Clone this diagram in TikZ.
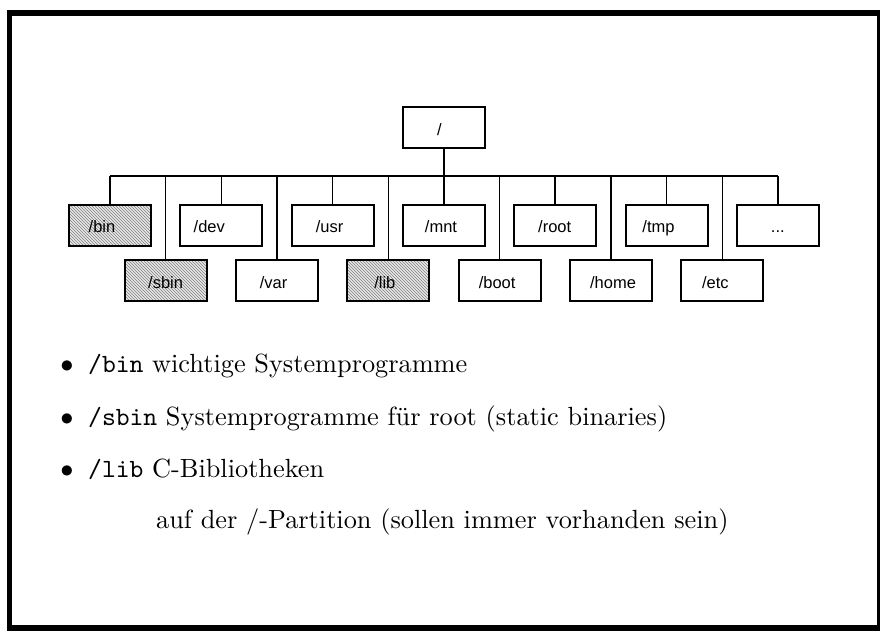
\documentclass[tikz,border=0pt]{standalone}
\usepackage{fontspec}
\usepackage{graphicx}
\newfontfamily\boxfont{Liberation Sans}
\usetikzlibrary{patterns}

\begin{document}
\begin{tikzpicture}[x=1pt,y=-1pt,
  dirbox/.style={draw, line width=2pt, minimum width=82pt, minimum height=41pt, inner sep=0pt},
  sysbox/.style={dirbox, preaction={fill=gray!18}, pattern=north west lines, pattern color=black!50},
  link/.style={line width=1.6pt},
  lbl/.style={font=\boxfont\fontsize{16.5}{18}\selectfont, inner sep=0pt,
              text height=12pt, text depth=0pt, yshift=-1.7pt},
  body/.style={inner sep=0pt, font=\fontsize{10}{12}\selectfont}
]
\useasboundingbox (0,0) rectangle (880,630);
\fill[white] (0,0) rectangle (880,630);

% slide frame
\draw[line width=5.5pt] (9.5,13) rectangle (879.5,627.8);

% directory tree
\node[dirbox, label={[lbl, xshift=-4.5pt]center:/}] (root) at (444,127.5) {};

\node[sysbox, label={[lbl, xshift=-8pt]center:/bin}]    (bin)  at (110,225) {};
\node[dirbox, label={[lbl, xshift=-12pt]center:/dev}]   (dev)  at (221.3,225) {};
\node[dirbox, label={[lbl, xshift=-3pt]center:/usr}]    (usr)  at (332.6,225) {};
\node[dirbox, label={[lbl, xshift=-3pt]center:/mnt}]    (mnt)  at (444,225) {};
\node[dirbox, label={[lbl, xshift=-0.5pt]center:/root}] (rootdir) at (555.2,225) {};
\node[dirbox, label={[lbl, xshift=-8pt]center:/tmp}]    (tmp)  at (666.5,225) {};
\node[dirbox, label={[lbl]center:...}]                  (more) at (777.8,225) {};

\node[sysbox, label={[lbl]center:/sbin}]                (sbin) at (165.6,280.5) {};
\node[dirbox, label={[lbl, xshift=-3.5pt]center:/var}]  (var)  at (277,280.5) {};
\node[sysbox, label={[lbl, xshift=-3.5pt]center:/lib}]  (lib)  at (388.3,280.5) {};
\node[dirbox, label={[lbl, xshift=-2.5pt]center:/boot}] (boot) at (499.6,280.5) {};
\node[dirbox, label={[lbl, xshift=2pt]center:/home}]    (home) at (611,280.5) {};
\node[dirbox, label={[lbl, xshift=-7pt]center:/etc}]    (etc)  at (722.3,280.5) {};

% bus line
\coordinate (busL) at (110,176);
\draw[link] (root.south) -- (mnt.north);
\draw[link] (bin.north |- busL) -- (more.north |- busL);
\foreach \d in {bin,dev,usr,rootdir,tmp,more,sbin,var,lib,boot,home,etc}
  \draw[link] (\d.north) -- (\d.north |- busL);

% explanations
\node[body, anchor=base] (b1) at (67,372) {\scalebox{2.63}{$\bullet$}};
\node[body, anchor=base west] (t1) at (88,372) {\scalebox{2.63}{\texttt{/bin} wichtige Systemprogramme}};
\node[body, anchor=base] (b2) at (67,425) {\scalebox{2.63}{$\bullet$}};
\node[body, anchor=base west] (t2) at (88,425) {\scalebox{2.63}{\texttt{/sbin} Systemprogramme für root (static binaries)}};
\node[body, anchor=base] (b3) at (67,477) {\scalebox{2.63}{$\bullet$}};
\node[body, anchor=base west] (t3) at (88,477) {\scalebox{2.63}{\texttt{/lib} C-Bibliotheken}};
\node[body, anchor=base west] (t4) at (156,528) {\scalebox{2.63}{auf der /-Partition (sollen immer vorhanden sein)}};
\end{tikzpicture}
\end{document}
